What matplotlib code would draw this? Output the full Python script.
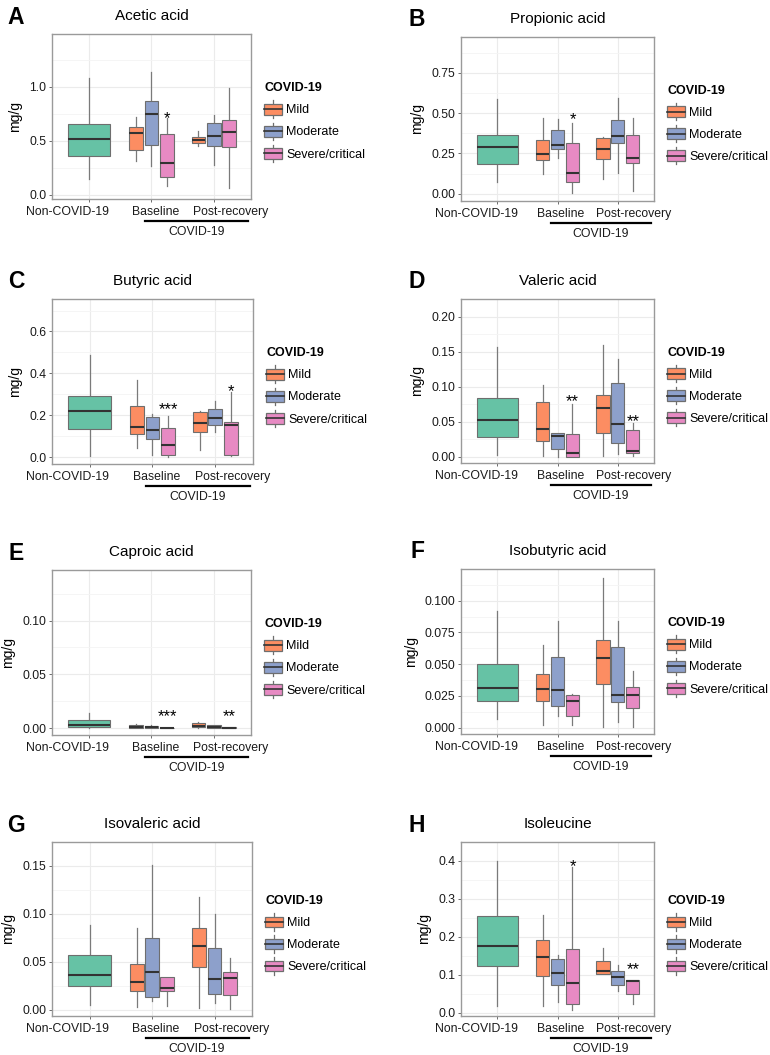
import matplotlib
matplotlib.use("Agg")
import matplotlib.pyplot as plt
import matplotlib.transforms as mtransforms
from matplotlib.patches import Patch, Rectangle
from matplotlib.lines import Line2D
from matplotlib.legend_handler import HandlerBase

plt.rcParams['font.family'] = ['Liberation Sans', 'DejaVu Sans']

# ==========================================
# DADOS: [min, q1, mediana, q3, max]
# ordem: Non-COVID, Baseline (Mild, Moderate, Severe), Post-recovery (Mild, Moderate, Severe)
# ==========================================
GRUPOS = ['Non-COVID-19', 'Baseline', 'Post-recovery']
GRAVIDADE = ['Mild', 'Moderate', 'Severe/critical']

ACETIC = [[0.148, 0.355, 0.515, 0.654, 1.08],
          [0.31, 0.41, 0.574, 0.627, 0.72], [0.262, 0.457, 0.75, 0.873, 1.14], [0.077, 0.164, 0.29, 0.562, 0.71],
          [0.454, 0.478, 0.503, 0.534, 0.586], [0.278, 0.454, 0.54, 0.664, 0.74], [0.062, 0.441, 0.577, 0.694, 0.988]]
PROPIONIC = [[0.07, 0.186, 0.291, 0.364, 0.589],
             [0.12, 0.211, 0.248, 0.333, 0.471], [0.219, 0.275, 0.30, 0.395, 0.467], [0.006, 0.074, 0.128, 0.318, 0.44],
             [0.089, 0.213, 0.277, 0.343, 0.353], [0.13, 0.316, 0.36, 0.457, 0.597], [0.017, 0.188, 0.225, 0.364, 0.473]]
BUTYRIC = [[0.003, 0.134, 0.221, 0.293, 0.489],
           [0.043, 0.11, 0.145, 0.244, 0.369], [0.011, 0.0875, 0.129, 0.191, 0.205], [0.0, 0.011, 0.056, 0.137, 0.197],
           [0.035, 0.118, 0.162, 0.216, 0.218], [0.119, 0.154, 0.189, 0.231, 0.266], [0.003, 0.011, 0.154, 0.166, 0.309]]
VALERIC = [[0.0026, 0.0284, 0.0528, 0.0843, 0.156],
           [0.0017, 0.0227, 0.039, 0.078, 0.102], [0.0, 0.0114, 0.029, 0.0336, 0.034], [0.0, 0.0, 0.0052, 0.0328, 0.0747],
           [0.0009, 0.034, 0.069, 0.0886, 0.160], [0.0035, 0.0197, 0.047, 0.1048, 0.14], [0.0004, 0.0057, 0.0079, 0.0384, 0.0476]]
CAPROIC = [[0.0, 0.0006, 0.0028, 0.0074, 0.0142],
           [0.0, 0.0003, 0.0012, 0.0031, 0.0034], [0.0, 0.0, 0.001, 0.0022, 0.003], [0.0, 0.0, 0.0001, 0.0003, 0.0003],
           [0.0, 0.0006, 0.0022, 0.0043, 0.0053], [0.0, 0.0, 0.0012, 0.0025, 0.0028], [0.0, 0.0, 0.0003, 0.0009, 0.001]]
ISOBUTYRIC = [[0.0065, 0.0212, 0.0314, 0.0503, 0.0921],
              [0.0018, 0.0207, 0.0306, 0.0424, 0.0652], [0.0089, 0.0168, 0.0296, 0.0555, 0.0838], [0.0021, 0.0089, 0.0209, 0.0259, 0.0267],
              [0.0008, 0.0343, 0.0547, 0.0691, 0.1183], [0.0045, 0.0199, 0.0259, 0.0634, 0.0838], [0.0005, 0.0152, 0.0259, 0.0319, 0.045]]
ISOVALERIC = [[0.0054, 0.0244, 0.0367, 0.0573, 0.0886],
              [0.0025, 0.0196, 0.0291, 0.0475, 0.0848], [0.0089, 0.013, 0.0389, 0.0753, 0.1506], [0.0035, 0.0196, 0.0222, 0.0342, 0.0342],
              [0.0013, 0.0446, 0.0661, 0.0851, 0.118], [0.0066, 0.0161, 0.0323, 0.0642, 0.10], [0.001, 0.0152, 0.0335, 0.0396, 0.0538]]
ISOLEUCINE = [[0.018, 0.122, 0.176, 0.256, 0.40],
              [0.018, 0.097, 0.146, 0.192, 0.258], [0.028, 0.073, 0.104, 0.142, 0.151], [0.0066, 0.022, 0.078, 0.168, 0.384],
              [0.103, 0.103, 0.11, 0.135, 0.17], [0.057, 0.072, 0.093, 0.109, 0.126], [0.023, 0.048, 0.084, 0.086, 0.086]]

# asteriscos de significância: (grupo, texto, y)
STARS_ACETIC = [(1, '*', 0.756)]
STARS_PROPIONIC = [(1, '*', 0.49)]
STARS_BUTYRIC = [(1, '***', 0.25), (2, '*', 0.337)]
STARS_VALERIC = [(1, '**', 0.0856), (2, '**', 0.057)]
STARS_CAPROIC = [(1, '***', 0.0152), (2, '**', 0.0152)]
STARS_ISOBUTYRIC = []
STARS_ISOVALERIC = []
STARS_ISOLEUCINE = [(1, '*', 0.398), (2, '**', 0.126)]

YTICKS_ACETIC = [0.0, 0.5, 1.0]
YTICKS_PROPIONIC = [0.0, 0.25, 0.5, 0.75]
YTICKS_BUTYRIC = [0.0, 0.2, 0.4, 0.6]
YTICKS_VALERIC = [0.0, 0.05, 0.10, 0.15, 0.20]
YTICKS_CAPROIC = [0.0, 0.05, 0.10]
YTICKS_ISOBUTYRIC = [0.0, 0.025, 0.05, 0.075, 0.10]
YTICKS_ISOVALERIC = [0.0, 0.05, 0.10, 0.15]
YTICKS_ISOLEUCINE = [0.0, 0.1, 0.2, 0.3, 0.4]

# ==========================================
# ESTILO E LAYOUT
# ==========================================
COR_NON = '#66C2A5'
CORES = ['#FC8D62', '#8DA0CB', '#E78AC3']
COR_BORDA = '#6e6e6e'
COR_MEDIANA = '#333333'

W, H = 770, 1055

# centro dos rótulos do eixo x (no original não ficam centrados no tick)
X_ROTULOS = [0.65, 2.06, 3.27]

# (letra, título, dados, estrelas, yticks, decimais, ylim, caixa em px (esq, topo, dir, base))
PAINEIS = [
    ('A', 'Acetic acid', ACETIC, STARS_ACETIC, YTICKS_ACETIC, 1, (-0.04, 1.49), (52, 34, 251, 199)),
    ('B', 'Propionic acid', PROPIONIC, STARS_PROPIONIC, YTICKS_PROPIONIC, 2, (-0.045, 0.973), (461, 37, 654, 201)),
    ('C', 'Butyric acid', BUTYRIC, STARS_BUTYRIC, YTICKS_BUTYRIC, 1, (-0.033, 0.755), (52, 299, 253, 464)),
    ('D', 'Valeric acid', VALERIC, STARS_VALERIC, YTICKS_VALERIC, 2, (-0.009, 0.206), (461, 299, 654, 463)),
    ('E', 'Caproic acid', CAPROIC, STARS_CAPROIC, YTICKS_CAPROIC, 2, (-0.0065, 0.147), (52, 570, 251, 735)),
    ('F', 'Isobutyric acid', ISOBUTYRIC, STARS_ISOBUTYRIC, YTICKS_ISOBUTYRIC, 3, (-0.005, 0.125), (461, 569, 654, 734)),
    ('G', 'Isovaleric acid', ISOVALERIC, STARS_ISOVALERIC, YTICKS_ISOVALERIC, 2, (-0.0066, 0.158), (52, 842, 252, 1016)),
    ('H', 'Isoleucine', ISOLEUCINE, STARS_ISOLEUCINE, YTICKS_ISOLEUCINE, 1, (-0.009, 0.418), (461, 842, 654, 1016)),
]


class BoxKey(HandlerBase):
    """Chave da legenda no estilo ggplot (caixa + mediana + bigodes)."""
    def create_artists(self, legend, orig_handle, xdescent, ydescent, width, height, fontsize, trans):
        x0, y0 = -xdescent, -ydescent
        fc = orig_handle.get_facecolor()
        bigode = Line2D([x0 + width / 2] * 2, [y0 - height * 0.3, y0 + height * 1.3],
                        color=COR_BORDA, lw=0.9, transform=trans)
        caixa = Rectangle((x0, y0), width, height, facecolor=fc, edgecolor=COR_BORDA,
                          lw=0.9, transform=trans)
        mediana = Line2D([x0, x0 + width], [y0 + height / 2] * 2, color=COR_MEDIANA,
                         lw=1.2, transform=trans)
        return [bigode, caixa, mediana]


def desl_px(fig, dy):
    return mtransforms.ScaledTranslation(0, -dy / 100, fig.dpi_scale_trans)


def desenhar_painel(fig, letra, titulo, dados, estrelas, yticks, dec, ylim, caixa_px):
    esq, topo, dir_, base = caixa_px
    ax = fig.add_axes([esq / W, 1 - base / H, (dir_ - esq) / W, (base - topo) / H])

    posicoes = [1, 2 - 0.245, 2, 2 + 0.245, 3 - 0.245, 3, 3 + 0.245]
    larguras = [0.675] + [0.22] * 6
    cores = [COR_NON] + CORES + CORES
    stats = [dict(whislo=d[0], q1=d[1], med=d[2], q3=d[3], whishi=d[4]) for d in dados]

    bp = ax.bxp(stats, positions=posicoes, widths=larguras, showfliers=False, showcaps=False,
                patch_artist=True,
                boxprops=dict(edgecolor=COR_BORDA, linewidth=0.8),
                whiskerprops=dict(color='#7a7a7a', linewidth=0.9),
                medianprops=dict(color=COR_MEDIANA, linewidth=1.5))
    for caixa, cor in zip(bp['boxes'], cores):
        caixa.set_facecolor(cor)
        caixa.set_zorder(3)
    for linha in bp['medians']:
        linha.set_zorder(4)

    ax.set_xlim(0.4, 3.6)
    ax.set_ylim(*ylim)
    ax.set_xticks([1, 2, 3])
    ax.set_xticklabels(['', '', ''])
    ax.set_yticks(yticks)
    ax.set_yticklabels([f"{v:.{dec}f}" for v in yticks])
    passo = yticks[1] - yticks[0]
    ax.set_yticks([v + passo / 2 for v in yticks], minor=True)
    ax.tick_params(axis='y', which='minor', length=0)
    ax.tick_params(which='major', length=2.5, width=0.6, color='#555555', labelsize=8.8,
                   labelcolor='#1a1a1a', pad=1.5)
    ax.grid(True, which='major', color='#ebebeb', lw=0.8)
    ax.grid(True, which='minor', axis='y', color='#f4f4f4', lw=0.6)
    ax.set_axisbelow(True)
    for s in ax.spines.values():
        s.set_color('#9a9a9a')
        s.set_linewidth(1.0)
    ax.set_ylabel('mg/g', fontsize=10, labelpad=5)

    mistura = mtransforms.blended_transform_factory(ax.transData, ax.transAxes)

    # rótulos do eixo x
    for xr, rot in zip(X_ROTULOS, GRUPOS):
        ax.text(xr, 0, rot, transform=mistura + desl_px(fig, 13), ha='center', va='center',
                fontsize=8.8, color='#1a1a1a')

    # asteriscos
    for g, txt, y in estrelas:
        ax.annotate(txt, xy=(g + 1 + 0.25, y), xytext=(0, -7), textcoords='offset points',
                    ha='center', va='baseline', fontsize=12)

    # chave "COVID-19" abaixo do eixo
    ax.add_line(Line2D([1.9, 3.55], [0, 0], color='black', lw=1.6,
                       transform=mistura + desl_px(fig, 21.5), clip_on=False))
    ax.text(2.72, 0, 'COVID-19', transform=mistura + desl_px(fig, 33), ha='center', va='center',
            fontsize=8.8, color='#1a1a1a')

    # título e letra do painel
    cx = (esq + dir_) / 2
    fig.text(cx / W, 1 - (topo - 18) / H, titulo, ha='center', va='center', fontsize=11)
    fig.text((esq - 36 if esq < 300 else esq - 44) / W, 1 - (topo - 17) / H, letra,
             ha='center', va='center', fontsize=16.5, fontweight='bold')

    handles = [Patch(facecolor=c) for c in CORES]
    ax.legend(handles, GRAVIDADE, title='COVID-19', loc='center left',
              bbox_to_anchor=(1.0, 0.47), frameon=False, fontsize=9,
              title_fontproperties={'weight': 'bold', 'size': 9},
              handler_map={Patch: BoxKey()}, handlelength=1.45, handleheight=0.95,
              handletextpad=0.3, labelspacing=0.75, borderaxespad=0.65,
              alignment='left')
    return ax


fig = plt.figure(figsize=(W / 100, H / 100), dpi=100)
for p in PAINEIS:
    desenhar_painel(fig, *p)
fig.savefig('out.png', dpi=100, facecolor='white')
